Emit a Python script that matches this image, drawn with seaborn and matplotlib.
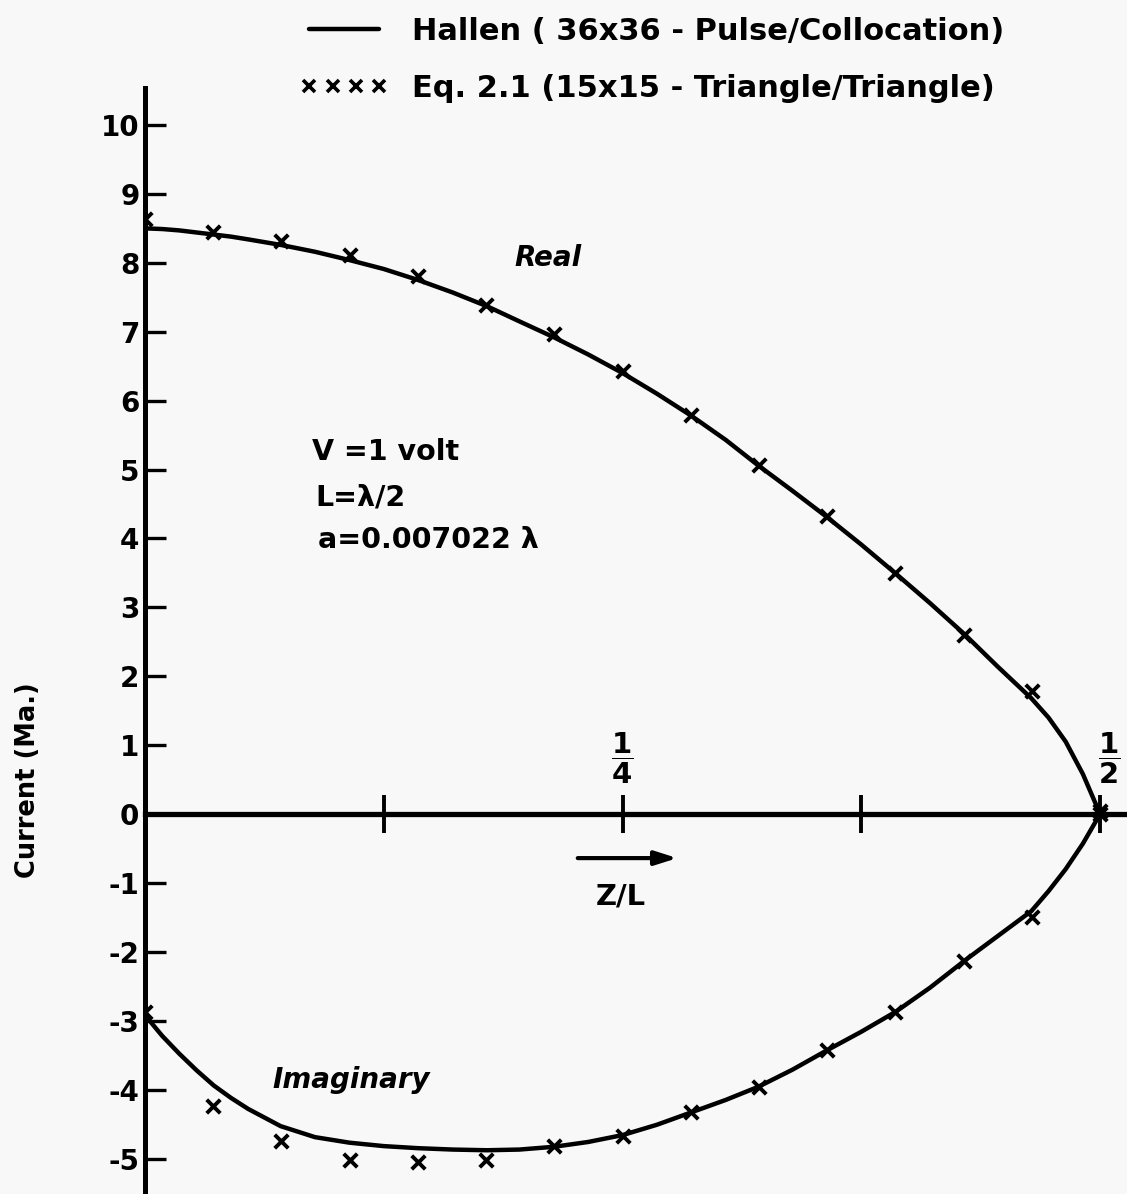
import seaborn as sns
import matplotlib.pyplot as plt
from matplotlib.lines import Line2D
import pandas as pd

# Z/L positions and currents (mA)
z_hallen = [0.0, 0.009, 0.018, 0.027, 0.036, 0.045, 0.054, 0.071, 0.089, 0.107,
            0.125, 0.143, 0.161, 0.179, 0.196, 0.214, 0.232, 0.25, 0.268, 0.286,
            0.304, 0.321, 0.339, 0.357, 0.375, 0.393, 0.411, 0.429, 0.446, 0.464,
            0.473, 0.482, 0.491, 0.5]
real_hallen = [8.50, 8.49, 8.47, 8.44, 8.41, 8.38, 8.34, 8.26, 8.16, 8.04,
               7.91, 7.75, 7.57, 7.37, 7.15, 6.92, 6.67, 6.40, 6.10, 5.78,
               5.43, 5.06, 4.69, 4.31, 3.91, 3.49, 3.06, 2.61, 2.15, 1.68,
               1.40, 1.05, 0.58, 0.0]
imag_hallen = [-2.92, -3.22, -3.48, -3.72, -3.94, -4.12, -4.28, -4.53, -4.69, -4.77,
               -4.82, -4.85, -4.87, -4.88, -4.87, -4.83, -4.76, -4.66, -4.51, -4.33,
               -4.15, -3.96, -3.71, -3.43, -3.16, -2.87, -2.52, -2.13, -1.78, -1.41,
               -1.12, -0.80, -0.43, 0.0]

z_eq = [0.0, 0.0357, 0.0714, 0.1071, 0.1429, 0.1786, 0.2143, 0.25,
        0.2857, 0.3214, 0.3571, 0.3929, 0.4286, 0.4643, 0.5]
real_eq = [8.64, 8.45, 8.31, 8.12, 7.81, 7.39, 6.97, 6.43,
           5.79, 5.06, 4.33, 3.50, 2.60, 1.78, 0.04]
imag_eq = [-2.88, -4.24, -4.75, -5.02, -5.05, -5.02, -4.82, -4.67,
           -4.33, -3.96, -3.43, -2.87, -2.13, -1.49, 0.0]

y_ticks = list(range(-5, 11))
y_labels = [str(v) for v in y_ticks]
legend_labels = ['Hallen ( 36x36 - Pulse/Collocation)',
                 'Eq. 2.1 (15x15 - Triangle/Triangle)']

hal = pd.DataFrame({'z': z_hallen, 're': real_hallen, 'im': imag_hallen})
eq = pd.DataFrame({'z': z_eq, 're': real_eq, 'im': imag_eq})

sns.set_theme(style="white")
fams = ['DejaVu Sans']
plt.rcParams['font.family'] = fams
plt.rcParams['font.weight'] = 'bold'
plt.rcParams['mathtext.fontset'] = 'dejavusans'
plt.rcParams['text.color'] = 'black'
plt.rcParams['axes.labelcolor'] = 'black'
plt.rcParams['ytick.color'] = 'black'
plt.rcParams['xtick.color'] = 'black'

bg = '#f8f8f8'
fig = plt.figure(figsize=(11.27, 11.94), dpi=100, facecolor=bg)
ax = fig.add_axes([145 / 1127, 0, 982 / 1127, 1106 / 1194])
ax.set_facecolor(bg)

line_kw = dict(color='black', lw=3.2, solid_joinstyle='round', ax=ax)
sns.lineplot(data=hal, x='z', y='re', **line_kw)
sns.lineplot(data=hal, x='z', y='im', **line_kw)
sc_kw = dict(marker='x', color='black', s=95, linewidth=2.8, ax=ax, zorder=4)
sns.scatterplot(data=eq, x='z', y='re', **sc_kw)
sns.scatterplot(data=eq, x='z', y='im', **sc_kw)

ax.set_xlim(0, 0.5141)
ax.set_ylim(-5.515, 10.537)

for s in ['top', 'right']:
    ax.spines[s].set_visible(False)
ax.spines['left'].set_linewidth(3.6)
ax.spines['left'].set_color('black')
ax.spines['bottom'].set_position(('data', 0))
ax.spines['bottom'].set_linewidth(3.8)
ax.spines['bottom'].set_color('black')
ax.spines['bottom'].set_zorder(1)

ax.set_yticks(y_ticks)
ax.set_yticklabels(y_labels)
ax.tick_params(axis='y', direction='in', length=15, width=2.4, colors='black',
               labelsize=20, pad=4, left=True)

ax.set_xticks([0.125, 0.25, 0.375, 0.5])
ax.set_xticklabels([])
ax.tick_params(axis='x', direction='inout', length=27, width=2.8, color='black', bottom=True)

ax.set_xlabel('')
ax.set_ylabel('Current (Ma.)', fontsize=18.5, fontweight='bold', color='black')
ax.yaxis.set_label_coords(-0.106, 0.374)

fkw = dict(fontsize=21, ha='center', va='center', color='black')
ax.text(0.25, 0.81, r'$\dfrac{\mathbf{1}}{\mathbf{4}}$', **fkw)
ax.text(0.505, 0.81, r'$\dfrac{\mathbf{1}}{\mathbf{2}}$', **fkw)

ax.annotate('', xy=(0.2801, -0.64), xytext=(0.2251, -0.64),
            arrowprops=dict(arrowstyle='-|>,head_length=1.1,head_width=0.35',
                            lw=3, color='black'))
ax.text(0.249, -1.2, 'Z/L', fontsize=21, ha='center', va='center', color='black')

ax.text(0.211, 8.07, 'Real', fontsize=20, ha='center', va='center',
        style='italic', color='black')
ax.text(0.108, -3.86, 'Imaginary', fontsize=20, ha='center', va='center',
        style='italic', color='black')

pkw = dict(fontsize=20.5, ha='left', va='center', color='black')
ax.text(0.0874, 5.25, 'V =1 volt', **pkw)
ax.text(0.089, 4.59, 'L=\u03bb/2', **pkw)
ax.text(0.0906, 3.98, 'a=0.007022 \u03bb', **pkw)

handles = [Line2D([], [], color='black', lw=3.2),
           Line2D([], [], color='black', ls='none', marker='x', ms=8, mew=2.6)]
leg = ax.legend(handles, legend_labels, loc='upper left',
                bbox_to_anchor=(300 / 1127, 1 - 17 / 1194),
                bbox_transform=fig.transFigure, frameon=False,
                prop={'weight': 'bold', 'size': 22, 'family': fams},
                handlelength=2.9, handletextpad=0.75, labelspacing=0.92,
                numpoints=4, borderpad=0, borderaxespad=0)
for t in leg.get_texts():
    t.set_color('black')

fig.savefig('out.png', dpi=100, facecolor=bg)
